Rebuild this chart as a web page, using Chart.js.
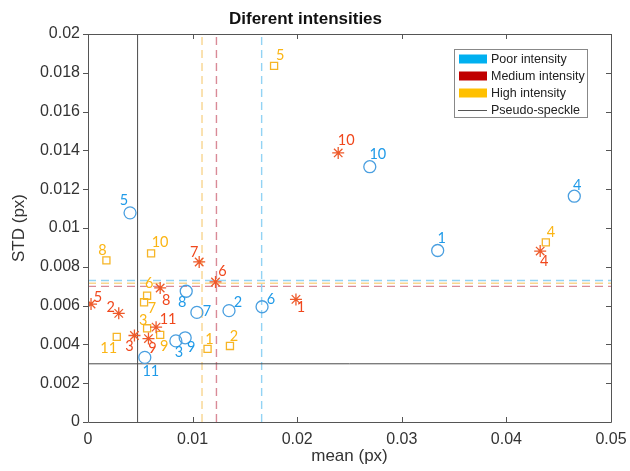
<!DOCTYPE html>
<html>
<head>
<meta charset="utf-8">
<script src="https://cdn.jsdelivr.net/npm/chart.js@4"></script>
<style>
  html, body { margin: 0; padding: 0; background: #fff; }
  #wrap { width: 630px; height: 471px; }
</style>
</head>
<body>
<div id="wrap"><canvas id="intChart" width="630" height="471"></canvas></div>
<script>
// point numbers (same for every group)
const pointIds = [1, 2, 3, 4, 5, 6, 7, 8, 9, 10, 11];

// Poor intensity
const poorMean = [0.03343, 0.01348, 0.0084, 0.04649, 0.00402, 0.01664, 0.01041, 0.00939, 0.00929, 0.02694, 0.00543];
const poorStd  = [0.00884, 0.00574, 0.00418, 0.01164, 0.01078, 0.00594, 0.00565, 0.00674, 0.00434, 0.01316, 0.00333];

// Medium intensity
const mediumMean = [0.01988, 0.00294, 0.00444, 0.04323, 0.00029, 0.01219, 0.01063, 0.0069, 0.00578, 0.02392, 0.00651];
const mediumStd  = [0.00632, 0.0056, 0.00446, 0.00881, 0.00608, 0.00722, 0.00825, 0.00691, 0.0043, 0.01387, 0.00489];

// High intensity
const highMean = [0.01143, 0.01357, 0.00565, 0.04377, 0.01779, 0.00565, 0.00536, 0.00176, 0.0069, 0.00603, 0.00275];
const highStd  = [0.00377, 0.00392, 0.00483, 0.00926, 0.01836, 0.00651, 0.00617, 0.00833, 0.00449, 0.00869, 0.00439];

// threshold lines: poor, medium, high
const meanLimits = [0.0166, 0.01228, 0.0109];
const stdLimits  = [0.00729, 0.00699, 0.00715];

// pseudo-speckle reference
const speckleMean = 0.00474;
const speckleStd = 0.003;

const xTicks = [0, 0.01, 0.02, 0.03, 0.04, 0.05];
const yTicks = [0, 0.002, 0.004, 0.006, 0.008, 0.01, 0.012, 0.014, 0.016, 0.018, 0.02];
const legendNames = ['Poor intensity', 'Medium intensity', 'High intensity', 'Pseudo-speckle'];

const xMin = xTicks[0], xMax = xTicks[xTicks.length - 1];
const yMin = yTicks[0], yMax = yTicks[yTicks.length - 1];

// where each number label sits relative to its marker (px)
const poorOffsets = [[4,-12],[9,-8],[3,11],[3,-11],[-6,-13],[9,-7],[10,-1],[-4,11],[6,10],[8,-12],[6,14]];
const mediumOffsets = [[5,8],[-8,-6],[-5,11],[4,10],[7,-7],[7,-11],[-5,-10],[6,12],[4,10],[8,-13],[12,-8]];
const highOffsets = [[2,-10],[4,-10],[-4,-8],[5,-10],[6,-10],[2,-12],[8,6],[-4,-10],[4,11],[9,-11],[-8,11]];

const pts = (xs, ys) => xs.map((x, i) => ({ x: x, y: ys[i] }));
const vLine = v => [{ x: v, y: yMin }, { x: v, y: yMax }];
const hLine = v => [{ x: xMin, y: v }, { x: xMax, y: v }];

const markerSets = [
  { label: legendNames[0], data: pts(poorMean, poorStd), pointStyle: 'circle', pointRadius: 6,
    borderColor: '#4a9fe0', text: '#1f9ae8', offsets: poorOffsets },
  { label: legendNames[1], data: pts(mediumMean, mediumStd), pointStyle: 'star', pointRadius: 6,
    borderColor: '#ee5a2a', text: '#f0471c', offsets: mediumOffsets },
  { label: legendNames[2], data: pts(highMean, highStd), pointStyle: 'rect', pointRadius: 5,
    borderColor: '#f6b526', text: '#fbb514', offsets: highOffsets }
];
const dashColors = ['#92d3f4', '#d98a97', '#f8d690'];
const legendColors = ['#00b0f0', '#c00000', '#ffc000'];

const datasets = [];
markerSets.forEach(m => {
  datasets.push({
    label: m.label, data: m.data, pointStyle: m.pointStyle, pointRadius: m.pointRadius,
    pointHoverRadius: m.pointRadius, borderColor: m.borderColor, backgroundColor: 'rgba(0,0,0,0)',
    pointBorderWidth: 1.3, showLine: false, order: 0, numColor: m.text, offsets: m.offsets
  });
});
meanLimits.forEach((v, i) => {
  datasets.push({ data: vLine(v), showLine: true, borderColor: dashColors[i], borderWidth: 1.4,
    borderDash: [8, 5], pointRadius: 0, order: 2 });
  datasets.push({ data: hLine(stdLimits[i]), showLine: true, borderColor: dashColors[i], borderWidth: 1.4,
    borderDash: [8, 5], pointRadius: 0, order: 2 });
});
datasets.push({ data: vLine(speckleMean), showLine: true, borderColor: '#4a4a4a', borderWidth: 1, pointRadius: 0, order: 1 });
datasets.push({ data: hLine(speckleStd), showLine: true, borderColor: '#4a4a4a', borderWidth: 1, pointRadius: 0, order: 1 });

const fmt = v => String(Number(v.toFixed(3)));

// number labels next to the markers
const numberLabels = {
  id: 'numberLabels',
  afterDatasetsDraw(chart) {
    const ctx = chart.ctx;
    ctx.save();
    ctx.font = '14.5px Lato';
    ctx.textAlign = 'center';
    ctx.textBaseline = 'middle';
    chart.data.datasets.forEach((ds, di) => {
      if (!ds.offsets) return;
      ctx.fillStyle = ds.numColor;
      chart.getDatasetMeta(di).data.forEach((el, i) => {
        ctx.fillText(String(pointIds[i]), el.x + ds.offsets[i][0], el.y + ds.offsets[i][1]);
      });
    });
    ctx.restore();
  }
};

// MATLAB style box with ticks
const axisBox = {
  id: 'axisBox',
  afterDraw(chart) {
    const { ctx, chartArea: a, scales } = chart;
    ctx.save();
    ctx.strokeStyle = '#555';
    ctx.lineWidth = 1;
    ctx.beginPath();
    ctx.rect(Math.round(a.left) + 0.5, Math.round(a.top) + 0.5, Math.round(a.right - a.left), Math.round(a.bottom - a.top));
    xTicks.forEach(t => {
      const x = Math.round(scales.x.getPixelForValue(t)) + 0.5;
      ctx.moveTo(x, a.bottom); ctx.lineTo(x, a.bottom - 5);
      ctx.moveTo(x, a.top); ctx.lineTo(x, a.top + 5);
    });
    yTicks.forEach(t => {
      const y = Math.round(scales.y.getPixelForValue(t)) + 0.5;
      ctx.moveTo(a.left, y); ctx.lineTo(a.left - 5, y);
      ctx.moveTo(a.right, y); ctx.lineTo(a.right - 5, y);
    });
    ctx.stroke();

    // legend
    const lx = 454, ly = 49, lw = 133, lh = 68;
    ctx.fillStyle = '#fff';
    ctx.fillRect(lx, ly, lw, lh);
    ctx.strokeStyle = '#888';
    ctx.strokeRect(lx + 0.5, ly + 0.5, lw, lh);
    ctx.font = '12.5px "Liberation Sans", Arial, sans-serif';
    ctx.textBaseline = 'middle';
    ctx.textAlign = 'left';
    legendNames.forEach((name, i) => {
      const cy = ly + 10 + i * 17;
      if (i < 3) {
        ctx.fillStyle = legendColors[i];
        ctx.fillRect(lx + 5, cy - 4.5, 28, 9);
      } else {
        ctx.strokeStyle = '#555';
        ctx.beginPath();
        ctx.moveTo(lx + 4, cy + 0.5); ctx.lineTo(lx + 33, cy + 0.5);
        ctx.stroke();
      }
      ctx.fillStyle = '#222';
      ctx.fillText(name, lx + 37, cy + 0.5);
    });
    ctx.restore();
  }
};

const ctx = document.getElementById('intChart').getContext('2d');
new Chart(ctx, {
  type: 'scatter',
  data: { datasets: datasets },
  options: {
    responsive: false,
    animation: false,
    layout: { padding: { left: 0, right: 19, top: 0, bottom: 0 } },
    plugins: {
      legend: { display: false },
      tooltip: { enabled: false },
      title: {
        display: true, text: 'Diferent intensities', color: '#111',
        font: { family: '"Liberation Sans", Arial, sans-serif', size: 17, weight: 'bold' },
        padding: { top: 9, bottom: 4.6 }
      }
    },
    scales: {
      x: {
        type: 'linear', min: xMin, max: xMax,
        afterBuildTicks: s => { s.ticks = xTicks.map(v => ({ value: v })); },
        afterFit: s => { s.height = 49; s.paddingLeft = 0; s.paddingRight = 0; },
        grid: { display: false, drawTicks: false },
        border: { display: false },
        ticks: { callback: fmt, padding: 8, color: '#333', maxRotation: 0,
          font: { family: '"Liberation Sans", Arial, sans-serif', size: 16 } },
        title: { display: true, text: 'mean (px)', color: '#333', padding: { top: 0, bottom: 4 },
          font: { family: '"Liberation Sans", Arial, sans-serif', size: 17 } }
      },
      y: {
        type: 'linear', min: yMin, max: yMax,
        afterBuildTicks: s => { s.ticks = yTicks.map(v => ({ value: v })); },
        afterFit: s => { s.width = 88; },
        grid: { display: false, drawTicks: false },
        border: { display: false },
        ticks: { callback: fmt, padding: 8, color: '#333',
          font: { family: '"Liberation Sans", Arial, sans-serif', size: 16 } },
        title: { display: true, text: 'STD (px)', color: '#333', padding: { top: 9, bottom: 0 },
          font: { family: '"Liberation Sans", Arial, sans-serif', size: 17 } }
      }
    }
  },
  plugins: [numberLabels, axisBox]
});
</script>
</body>
</html>
